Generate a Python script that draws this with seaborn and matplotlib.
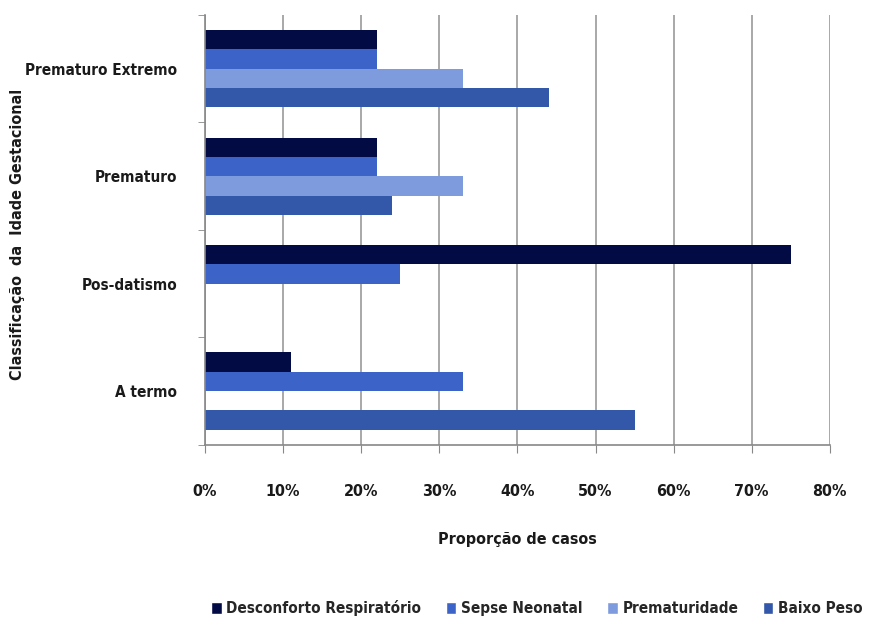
import matplotlib
matplotlib.use("Agg")
import matplotlib.pyplot as plt
import seaborn as sns
import pandas as pd
from matplotlib.ticker import FuncFormatter, FixedLocator
from matplotlib.patches import Patch

categories = ["Prematuro Extremo", "Prematuro", "Pos-datismo", "A termo"]
series = ["Desconforto Respiratório", "Sepse Neonatal", "Prematuridade", "Baixo Peso"]
desconforto = [22, 22, 75, 11]
sepse = [22, 22, 25, 33]
prematuridade = [33, 33, 0, 0]
baixo_peso = [44, 24, 0, 55]
colors = ["#030B45", "#3C64C8", "#7D9BDD", "#3357A9"]

rows = []
for s, vals in zip(series, [desconforto, sepse, prematuridade, baixo_peso]):
    for c, v in zip(categories, vals):
        rows.append({"cat": c, "serie": s, "val": v / 100})
df = pd.DataFrame(rows)

sns.set_style("white")
plt.rcParams["font.family"] = ["DejaVu Sans"]
plt.rcParams["font.stretch"] = "condensed"

fig = plt.figure(figsize=(8.8, 6.29), dpi=100)
ax = fig.add_axes([0.233, 0.293, 0.71, 0.683])
sns.barplot(data=df, y="cat", x="val", hue="serie", order=categories,
            hue_order=series, palette=colors, orient="h", width=0.72,
            saturation=1, ax=ax, legend=False, linewidth=0)

ax.set_xlim(0, 0.8)
ax.set_ylim(3.5, -0.5)
ax.xaxis.set_major_locator(FixedLocator([i / 10 for i in range(9)]))
ax.xaxis.set_major_formatter(FuncFormatter(lambda v, p: f"{v*100:.0f}%"))
ax.grid(axis="x", color="#999999", linewidth=1.2)
ax.set_axisbelow(True)
for sp in ["top", "right"]:
    ax.spines[sp].set_visible(False)
for sp in ["left", "bottom"]:
    ax.spines[sp].set_color("#888888")
    ax.spines[sp].set_linewidth(1.2)

ax.yaxis.set_minor_locator(FixedLocator([-0.5, 0.5, 1.5, 2.5, 3.5]))
ax.tick_params(axis="y", which="major", length=0, pad=20)
ax.tick_params(axis="y", which="minor", length=5, color="#888888", direction="out", left=True)
ax.tick_params(axis="x", which="major", length=6, color="#888888", direction="out", bottom=True, pad=22)
for lab in ax.get_xticklabels():
    lab.set_fontweight("bold")
    lab.set_fontsize(11.5)
    lab.set_fontstretch("condensed")
    lab.set_color("#1a1a1a")
for lab in ax.get_yticklabels():
    lab.set_fontweight("bold")
    lab.set_fontsize(11)
    lab.set_fontstretch("condensed")
    lab.set_color("#1a1a1a")

ax.set_xlabel("Proporção de casos", fontsize=11.5, fontweight="bold", labelpad=24, color="#1a1a1a",
              fontstretch="condensed")
ax.set_ylabel("")
fig.text(0.02, 0.627, "Classificação  da  Idade Gestacional", rotation=90, ha="center", va="center",
         fontsize=11.5, fontweight="bold", color="#1a1a1a", fontstretch="condensed")

handles = [Patch(facecolor=c, label=s) for c, s in zip(colors, series)]
fig.legend(handles=handles, loc="center", bbox_to_anchor=(0.61, 0.033), ncol=4, frameon=False,
           handlelength=0.7, handleheight=0.9, handletextpad=0.3, columnspacing=1.6,
           prop={"weight": "bold", "size": 11, "stretch": "condensed"})

fig.savefig("out.png", dpi=100)
